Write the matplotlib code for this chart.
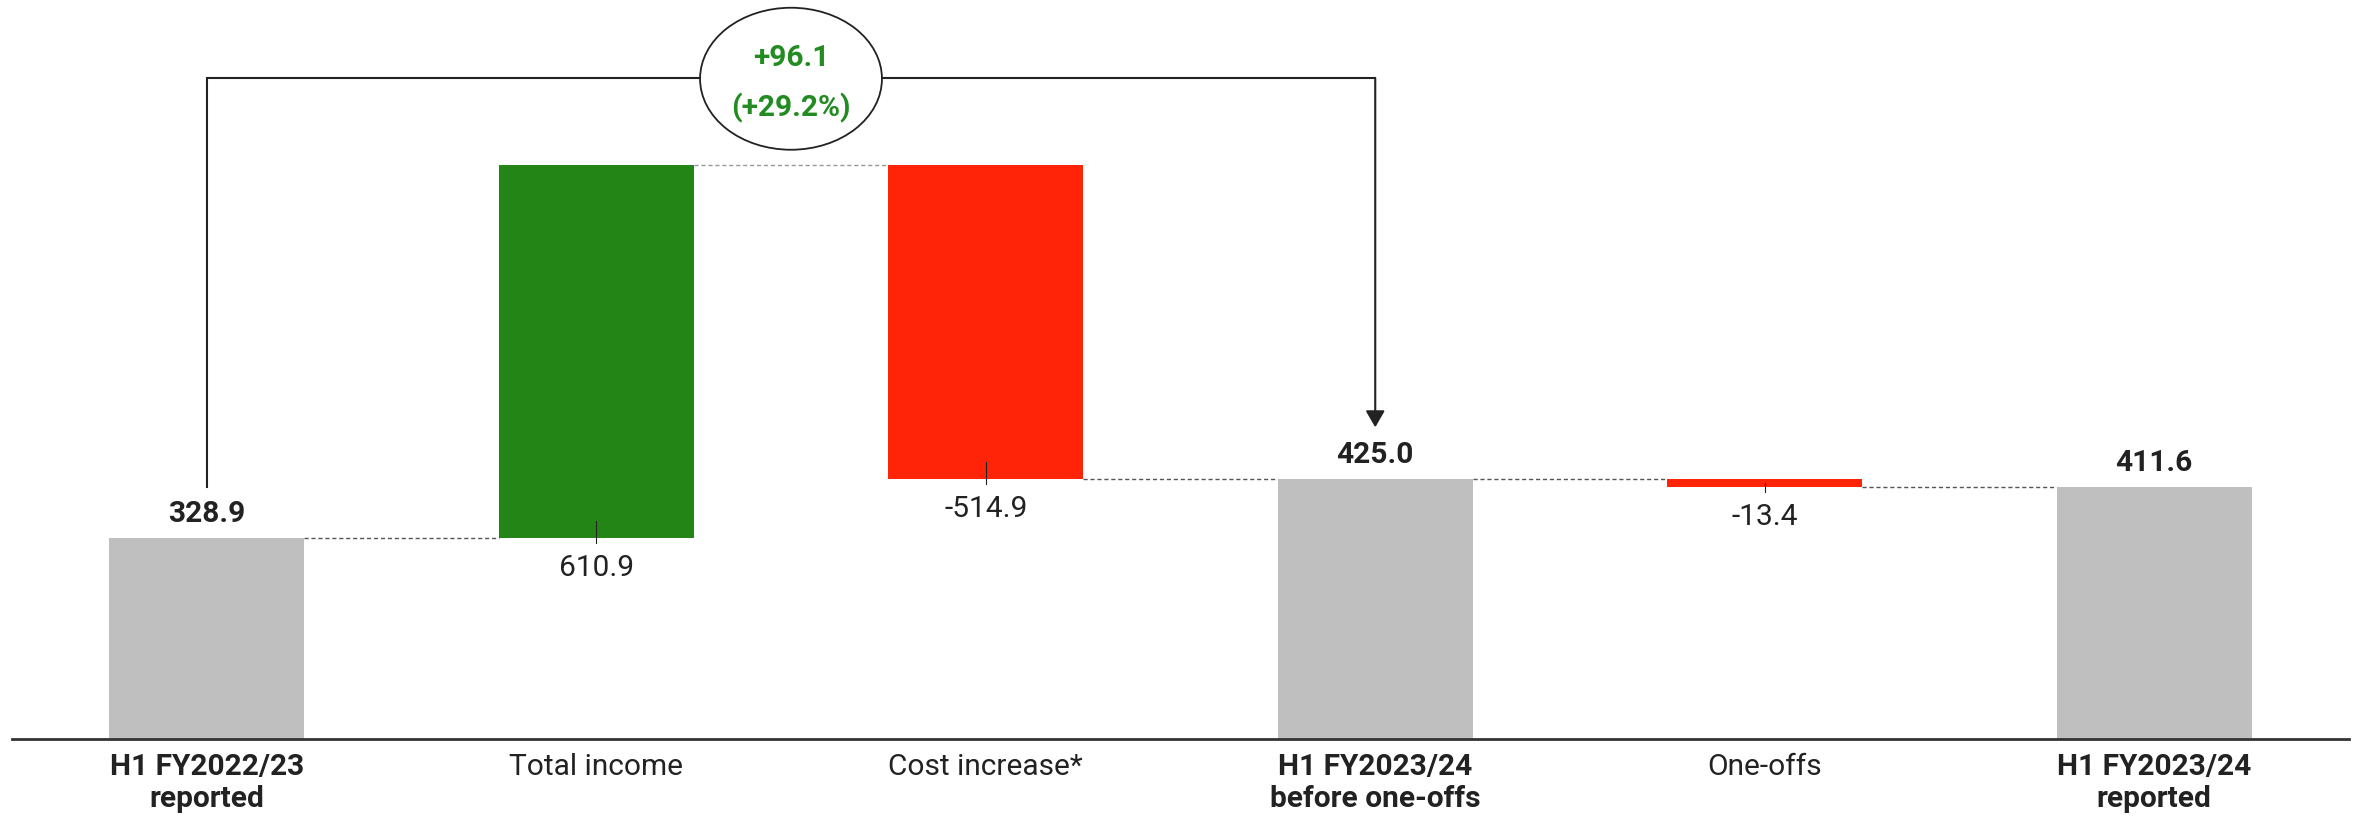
import matplotlib
matplotlib.use("Agg")
import matplotlib.pyplot as plt
from matplotlib.patches import Ellipse

# Waterfall data (EUR m)
categories = [
    "H1 FY2022/23\nreported",
    "Total income",
    "Cost increase*",
    "H1 FY2023/24\nbefore one-offs",
    "One-offs",
    "H1 FY2023/24\nreported",
]
kinds = ["total", "delta", "delta", "total", "delta", "total"]
values = [328.9, 610.9, -514.9, 425.0, -13.4, 411.6]

plt.rcParams["font.family"] = ["Roboto", "DejaVu Sans"]

GREY = "#BFBFBF"
GREEN = "#238516"
RED = "#FF2308"
TEXT = "#222222"
GREEN_TEXT = "#228B22"
FS = 21.5
PX = 1.636  # data units per pixel on the value axis

fig = plt.figure(figsize=(23.57, 8.19), dpi=100)
ax = fig.add_axes([12 / 2357, 80 / 819, 2337 / 2357, 739 / 819])

# compute bar spans
bottoms, heights, levels = [], [], []
level = 0.0
for k, v in zip(kinds, values):
    if k == "total":
        bottoms.append(0.0)
        heights.append(v)
        level = v
    else:
        bottoms.append(level if v > 0 else level + v)
        heights.append(abs(v))
        level += v
    levels.append(level)

colors = [GREY if k == "total" else (GREEN if v > 0 else RED)
          for k, v in zip(kinds, values)]
width = 0.5
x = list(range(len(values)))
ax.bar(x, heights, bottom=bottoms, width=width, color=colors, zorder=2)

# dashed connectors between neighbouring bars
for i in range(len(values) - 1):
    c = "#999999" if (kinds[i] == "delta" and kinds[i + 1] == "delta") else "#555555"
    ax.plot([i + width / 2, i + 1 - width / 2], [levels[i], levels[i]],
            color=c, lw=1.0, ls=(0, (3, 2)), zorder=1)

# value labels
for i, (k, v) in enumerate(zip(kinds, values)):
    if k == "total":
        ax.annotate(f"{v:.1f}", (i, v), xytext=(0, 17.3), textcoords="offset points",
                    ha="center", va="center", fontsize=FS, fontweight="bold", color=TEXT)
    else:
        b = bottoms[i]
        top = b + min(17 * PX, heights[i] / 2)
        ax.plot([i, i], [b - 5 * PX, top], color=TEXT, lw=0.8, zorder=3)
        ax.annotate(f"{v:.1f}", (i, b), xytext=(0, -21.6), textcoords="offset points",
                    ha="center", va="center", fontsize=FS, color=TEXT)

# bracket showing the change between the two pre-one-off totals
i0, i1 = 0, 3
change = values[i1] - values[i0]
pct = change / values[i0] * 100
bracket_y = 1081
ax.plot([i0, i0, i1], [values[i0] + 83, bracket_y, bracket_y],
        color=TEXT, lw=1.5, solid_joinstyle="miter", zorder=4)
ax.annotate("", xy=(i1, values[i1] + 85), xytext=(i1, bracket_y),
            arrowprops=dict(arrowstyle="-|>,head_length=0.5,head_width=0.29",
                            mutation_scale=20, color=TEXT, lw=1.5,
                            shrinkA=0, shrinkB=0), zorder=4)
xm = (i0 + i1) / 2
ax.add_patch(Ellipse((xm, bracket_y - 0.5 * PX), width=0.467, height=142 * PX,
                     facecolor="white", edgecolor=TEXT, lw=1.3, zorder=5))
ax.annotate(f"{change:+.1f}", (xm, bracket_y), xytext=(0, 14.4), textcoords="offset points",
            ha="center", va="center", fontsize=FS, fontweight="bold",
            color=GREEN_TEXT, zorder=6)
ax.annotate(f"({pct:+.1f}%)", (xm, bracket_y), xytext=(0, -21.6), textcoords="offset points",
            ha="center", va="center", fontsize=FS, fontweight="bold",
            color=GREEN_TEXT, zorder=6)

# axes styling
ax.set_xlim(-0.5, len(values) - 0.5)
ax.set_ylim(0, 739 * PX)
for s in ("top", "right", "left"):
    ax.spines[s].set_visible(False)
ax.spines["bottom"].set_color("#333333")
ax.spines["bottom"].set_linewidth(2)
ax.set_yticks([])
ax.set_xticks(x)
ax.set_xticklabels(categories, fontsize=FS, color=TEXT)
ax.tick_params(axis="x", length=0, pad=10)
for lbl, k in zip(ax.get_xticklabels(), kinds):
    lbl.set_fontweight("bold" if k == "total" else "normal")
    lbl.set_linespacing(1.2)

fig.savefig("out.png", dpi=100, facecolor="white")
